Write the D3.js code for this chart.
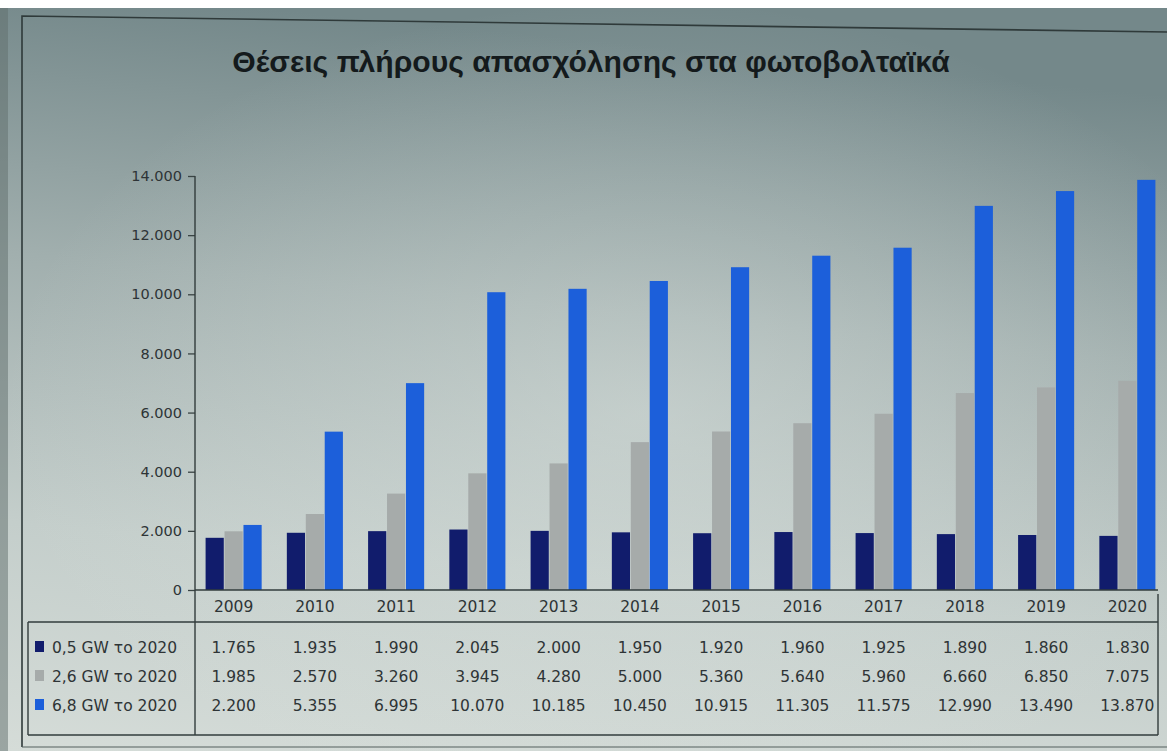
<!DOCTYPE html>
<html>
<head>
<meta charset="utf-8">
<script src="https://cdn.jsdelivr.net/npm/d3@7"></script>
<style>
  html, body { margin: 0; padding: 0; background: #ffffff; }
  svg { display: block; }
</style>
</head>
<body>
<svg id="chart" width="1167" height="751"></svg>
<script>
// Full-time jobs in photovoltaics, three installed-capacity scenarios
const years = ["2009", "2010", "2011", "2012", "2013", "2014", "2015", "2016", "2017", "2018", "2019", "2020"];
const seriesNames = ["0,5 GW το 2020", "2,6 GW το 2020", "6,8 GW το 2020"];
const jobs05 = [1765, 1935, 1990, 2045, 2000, 1950, 1920, 1960, 1925, 1890, 1860, 1830];
const jobs26 = [1985, 2570, 3260, 3945, 4280, 5000, 5360, 5640, 5960, 6660, 6850, 7075];
const jobs68 = [2200, 5355, 6995, 10070, 10185, 10450, 10915, 11305, 11575, 12990, 13490, 13870];
const yTicks = [0, 2000, 4000, 6000, 8000, 10000, 12000, 14000];
const titleText = "Θέσεις πλήρους απασχόλησης στα φωτοβολταϊκά";

const seriesColors = ["#111c6c", "#a6abaa", "#1c5fda"];
const seriesValues = [jobs05, jobs26, jobs68];

const grLocale = d3.formatLocale({ decimal: ",", thousands: ".", grouping: [3], currency: ["€", ""] });
const fmt = grLocale.format(",d");

const W = 1167, H = 751;
const svg = d3.select("#chart");
const defs = svg.append("defs");

// background wash
const bg = defs.append("linearGradient").attr("id", "bgGrad")
  .attr("x1", "0.15").attr("y1", "0").attr("x2", "0").attr("y2", "1");
bg.append("stop").attr("offset", "0").attr("stop-color", "#74888a");
bg.append("stop").attr("offset", "0.35").attr("stop-color", "#a1afae");
bg.append("stop").attr("offset", "0.7").attr("stop-color", "#c4cecb");
bg.append("stop").attr("offset", "1").attr("stop-color", "#d5dcd8");
svg.append("rect").attr("width", W).attr("height", H).attr("fill", "url(#bgGrad)");

const glow = defs.append("radialGradient").attr("id", "glow")
  .attr("cx", "0.55").attr("cy", "0.55").attr("r", "0.55");
glow.append("stop").attr("offset", "0").attr("stop-color", "#dfe6e2").attr("stop-opacity", 0.45);
glow.append("stop").attr("offset", "1").attr("stop-color", "#dfe6e2").attr("stop-opacity", 0);
svg.append("rect").attr("width", W).attr("height", H).attr("fill", "url(#glow)");

svg.append("rect").attr("x", 0).attr("y", 0).attr("width", W).attr("height", 8).attr("fill", "#ffffff");
svg.append("rect").attr("x", 0).attr("y", 8).attr("width", 8).attr("height", H - 8).attr("fill", "#5f6d6c").attr("opacity", 0.5);

// outer frame
svg.append("path")
  .attr("d", `M22,${H - 4} L22,16 L${W},32`)
  .attr("fill", "none").attr("stroke", "#2f3a3a").attr("stroke-width", 1.6);
svg.append("line").attr("x1", 22).attr("x2", W).attr("y1", 747).attr("y2", 747)
  .attr("stroke", "#55605f").attr("stroke-width", 1.2);

// title
const title = svg.append("text")
  .attr("x", 591).attr("y", 72)
  .attr("text-anchor", "middle")
  .attr("font-family", "'Liberation Sans', Arial, sans-serif")
  .attr("font-weight", "bold")
  .attr("font-size", 24)
  .attr("fill", "#141a1c")
  .text(titleText);
const tw = title.node().getComputedTextLength();
title.attr("font-size", 24 * 718 / tw);

// scales
const plotTop = 176, plotBottom = 590;
const x = d3.scaleBand().domain(years).range([193, 1168]).paddingInner(0.31).paddingOuter(0.155);
const xs = d3.scaleBand().domain(d3.range(3)).range([0, x.bandwidth()]).paddingInner(0.04);
const y = d3.scaleLinear().domain([0, 14000]).range([plotBottom, plotTop]);

const textColor = "#2e3436";
const fontFam = "'DejaVu Sans', Verdana, sans-serif";
const tableFont = 15.5;

// bars
const groups = svg.append("g").selectAll("g")
  .data(years).join("g")
  .attr("transform", d => `translate(${x(d)},0)`);
groups.selectAll("rect")
  .data((d, i) => seriesValues.map((vals, s) => ({ s, v: vals[i] })))
  .join("rect")
  .attr("x", d => xs(d.s))
  .attr("width", xs.bandwidth())
  .attr("y", d => y(d.v))
  .attr("height", d => y(0) - y(d.v))
  .attr("fill", d => seriesColors[d.s]);

// y axis
const axisX = 195;
const yAxis = svg.append("g")
  .attr("transform", `translate(${axisX},0)`)
  .call(d3.axisLeft(y).tickValues(yTicks).tickFormat(fmt).tickSize(7).tickPadding(6));
yAxis.select(".domain").remove();
yAxis.selectAll(".tick line").attr("stroke", "#3a4444").attr("stroke-width", 1.3);
yAxis.selectAll(".tick text")
  .attr("font-family", fontFam).attr("font-size", 14.5).attr("fill", textColor);

const lineColor = "#323c3c";
// vertical axis line running through the table
svg.append("line").attr("x1", axisX).attr("x2", axisX).attr("y1", plotTop).attr("y2", 735)
  .attr("stroke", lineColor).attr("stroke-width", 1.4);
// baseline
svg.append("line").attr("x1", axisX).attr("x2", 1158).attr("y1", plotBottom).attr("y2", plotBottom)
  .attr("stroke", lineColor).attr("stroke-width", 1.4);

// data table
const headerY = 612, rowY = [653, 682, 711];
const tableLeft = 28, tableRight = 1158, headLine = 622, tableBottom = 735;
svg.append("line").attr("x1", tableLeft).attr("x2", tableRight).attr("y1", headLine).attr("y2", headLine)
  .attr("stroke", lineColor).attr("stroke-width", 1.4);
svg.append("line").attr("x1", tableLeft).attr("x2", tableRight).attr("y1", tableBottom).attr("y2", tableBottom)
  .attr("stroke", lineColor).attr("stroke-width", 1.4);
svg.append("line").attr("x1", tableLeft).attr("x2", tableLeft).attr("y1", headLine).attr("y2", tableBottom)
  .attr("stroke", lineColor).attr("stroke-width", 1.4);
svg.append("line").attr("x1", tableRight).attr("x2", tableRight).attr("y1", plotBottom + 4).attr("y2", tableBottom)
  .attr("stroke", lineColor).attr("stroke-width", 1.4);

svg.append("g").selectAll("text")
  .data(years).join("text")
  .attr("x", d => x(d) + x.bandwidth() / 2)
  .attr("y", headerY)
  .attr("text-anchor", "middle")
  .attr("font-family", fontFam).attr("font-size", tableFont).attr("fill", textColor)
  .text(d => d);

seriesNames.forEach((name, s) => {
  const g = svg.append("g");
  g.append("rect").attr("x", 35).attr("y", rowY[s] - 12).attr("width", 9).attr("height", 11)
    .attr("fill", seriesColors[s]);
  g.append("text").attr("x", 52).attr("y", rowY[s])
    .attr("font-family", fontFam).attr("font-size", tableFont).attr("fill", textColor)
    .text(name);
  g.selectAll("text.val")
    .data(seriesValues[s]).join("text")
    .attr("class", "val")
    .attr("x", (d, i) => x(years[i]) + x.bandwidth() / 2)
    .attr("y", rowY[s])
    .attr("text-anchor", "middle")
    .attr("font-family", fontFam).attr("font-size", tableFont).attr("fill", textColor)
    .text(d => fmt(d));
});
</script>
</body>
</html>
